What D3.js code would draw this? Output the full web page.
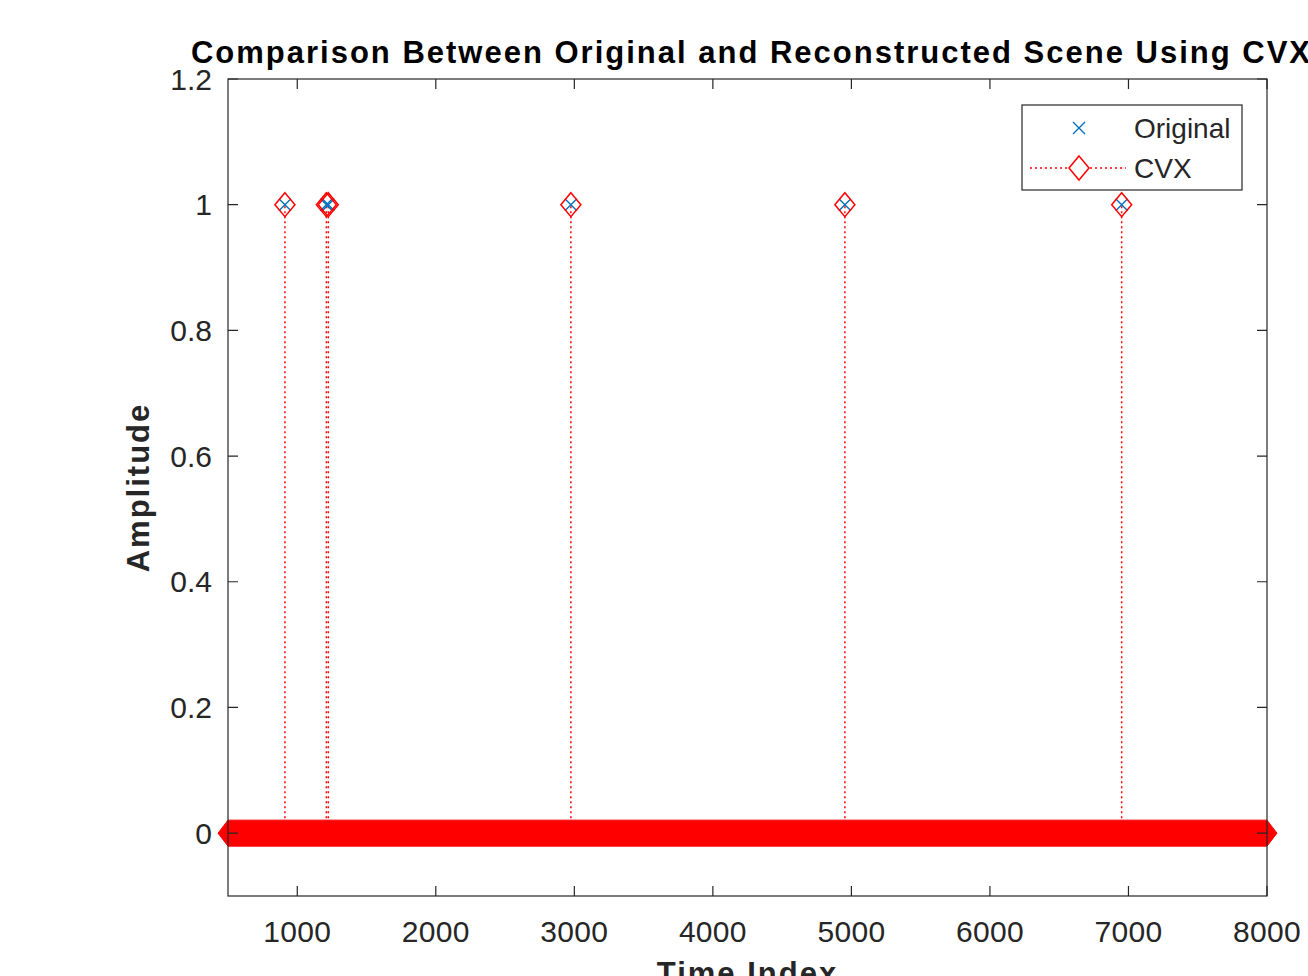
<!DOCTYPE html>
<html>
<head>
<meta charset="utf-8">
<script src="https://cdn.jsdelivr.net/npm/d3@7"></script>
<style>
  body { margin: 0; background: #fff; overflow: hidden; }
  text { font-family: "Liberation Sans", Arial, Helvetica, sans-serif; fill: #262626; }
</style>
</head>
<body>
<script>
// signal span (all samples are zero except the spikes below)
const indexSpan = [500, 8000];
const spikeIndex = [911, 1210, 1224, 2975, 4953, 6951];
const originalValues = [1, 1, 1, 1, 1, 1];
const cvxValues = [1, 1, 1, 1, 1, 1];
const xTicks = [1000, 2000, 3000, 4000, 5000, 6000, 7000, 8000];
const yTicks = [0, 0.2, 0.4, 0.6, 0.8, 1, 1.2];
const legendLabels = ["Original", "CVX"];

const W = 1308, H = 976;
const pL = 228, pR = 1267, pT = 79, pB = 896;
const blue = "#0072BD", red = "#ff0000", axisCol = "#262626";
const hw = 10, hh = 12; // diamond half sizes

const svg = d3.select("body").append("svg")
  .attr("width", W).attr("height", H)
  .attr("xmlns", "http://www.w3.org/2000/svg");

const x = d3.scaleLinear().domain([500, 8000]).range([pL, pR]);
const y = d3.scaleLinear().domain([-0.1, 1.2]).range([pB, pT]);

const diamond = (cx, cy) => `M${cx},${cy - hh}L${cx + hw},${cy}L${cx},${cy + hh}L${cx - hw},${cy}Z`;

// stems
svg.selectAll(".stem")
  .data(spikeIndex)
  .enter()
  .append("line")
  .attr("x1", d => x(d)).attr("x2", d => x(d))
  .attr("y1", y(0))
  .attr("y2", (d, i) => y(cvxValues[i]))
  .attr("stroke", red)
  .attr("stroke-width", 1.5)
  .attr("stroke-dasharray", "2,3");

// original markers (x)
const ms = 6;
svg.selectAll(".orig")
  .data(spikeIndex)
  .enter()
  .append("path")
  .attr("d", (d, i) => {
    const cx = x(d), cy = y(originalValues[i]);
    return `M${cx - ms},${cy - ms}L${cx + ms},${cy + ms}M${cx - ms},${cy + ms}L${cx + ms},${cy - ms}`;
  })
  .attr("stroke", blue)
  .attr("stroke-width", 1.4)
  .attr("fill", "none");

// CVX diamonds at spikes
svg.selectAll(".cvx")
  .data(spikeIndex)
  .enter()
  .append("path")
  .attr("d", (d, i) => diamond(x(d), y(cvxValues[i])))
  .attr("stroke", red)
  .attr("stroke-width", 1.5)
  .attr("fill", "none");

// zero-valued CVX diamonds merge into a solid band
const x0 = x(indexSpan[0]), x1 = x(indexSpan[1]), y0 = y(0);
svg.append("path")
  .attr("d", `M${x0 - hw},${y0}L${x0},${y0 - hh - 1}L${x1},${y0 - hh - 1}L${x1 + hw},${y0}L${x1},${y0 + hh + 1}L${x0},${y0 + hh + 1}Z`)
  .attr("fill", red)
  .attr("stroke", red)
  .attr("stroke-width", 1);

// axis frame
svg.append("rect")
  .attr("x", pL).attr("y", pT)
  .attr("width", pR - pL).attr("height", pB - pT)
  .attr("fill", "none")
  .attr("stroke", axisCol)
  .attr("stroke-width", 1.2);

const tl = 10;
// x ticks
svg.selectAll(".xt")
  .data(xTicks)
  .enter()
  .append("path")
  .attr("d", d => `M${x(d)},${pB}V${pB - tl}M${x(d)},${pT}V${pT + tl}`)
  .attr("stroke", axisCol).attr("stroke-width", 1.2);
svg.selectAll(".xl")
  .data(xTicks)
  .enter()
  .append("text")
  .attr("x", d => x(d))
  .attr("y", 942)
  .attr("text-anchor", "middle")
  .attr("font-size", 30)
  .attr("letter-spacing", 0.3)
  .text(d => d);

// y ticks
svg.selectAll(".yt")
  .data(yTicks)
  .enter()
  .append("path")
  .attr("d", d => `M${pL},${y(d)}H${pL + tl}M${pR},${y(d)}H${pR - tl}`)
  .attr("stroke", axisCol).attr("stroke-width", 1.2);
svg.selectAll(".yl")
  .data(yTicks)
  .enter()
  .append("text")
  .attr("x", 212)
  .attr("y", d => y(d))
  .attr("dy", "0.35em")
  .attr("text-anchor", "end")
  .attr("font-size", 30)
  .text(d => d);

// title and labels
svg.append("text")
  .attr("x", (pL + pR) / 2 + 4)
  .attr("y", 63)
  .attr("text-anchor", "middle")
  .attr("font-size", 31)
  .attr("font-weight", "bold")
  .attr("letter-spacing", 2)
  .style("fill", "#000")
  .text("Comparison Between Original and Reconstructed Scene Using CVX");

svg.append("text")
  .attr("transform", `translate(149,${(pT + pB) / 2}) rotate(-90)`)
  .attr("text-anchor", "middle")
  .attr("font-size", 31)
  .attr("font-weight", "bold")
  .attr("letter-spacing", 2)
  .text("Amplitude");

svg.append("text")
  .attr("x", (pL + pR) / 2)
  .attr("y", 984)
  .attr("text-anchor", "middle")
  .attr("font-size", 31)
  .attr("font-weight", "bold")
  .attr("letter-spacing", 2)
  .text("Time Index");

// legend
const lg = svg.append("g");
lg.append("rect")
  .attr("x", 1022).attr("y", 105)
  .attr("width", 220).attr("height", 85)
  .attr("fill", "#fff")
  .attr("stroke", axisCol).attr("stroke-width", 1.2);
const rowY = [128, 168];
const mx = 1079;
lg.append("path")
  .attr("d", `M${mx - ms},${rowY[0] - ms}L${mx + ms},${rowY[0] + ms}M${mx - ms},${rowY[0] + ms}L${mx + ms},${rowY[0] - ms}`)
  .attr("stroke", blue).attr("stroke-width", 1.4).attr("fill", "none");
lg.append("line")
  .attr("x1", 1030).attr("x2", 1126)
  .attr("y1", rowY[1]).attr("y2", rowY[1])
  .attr("stroke", red).attr("stroke-width", 1.5)
  .attr("stroke-dasharray", "2,3");
lg.append("path")
  .attr("d", diamond(mx, rowY[1]))
  .attr("fill", "#fff")
  .attr("stroke", red).attr("stroke-width", 1.5);
lg.selectAll(".lt")
  .data(legendLabels)
  .enter()
  .append("text")
  .attr("x", 1134)
  .attr("y", (d, i) => rowY[i])
  .attr("dy", "0.35em")
  .attr("font-size", 28)
  .text(d => d);
</script>
</body>
</html>
